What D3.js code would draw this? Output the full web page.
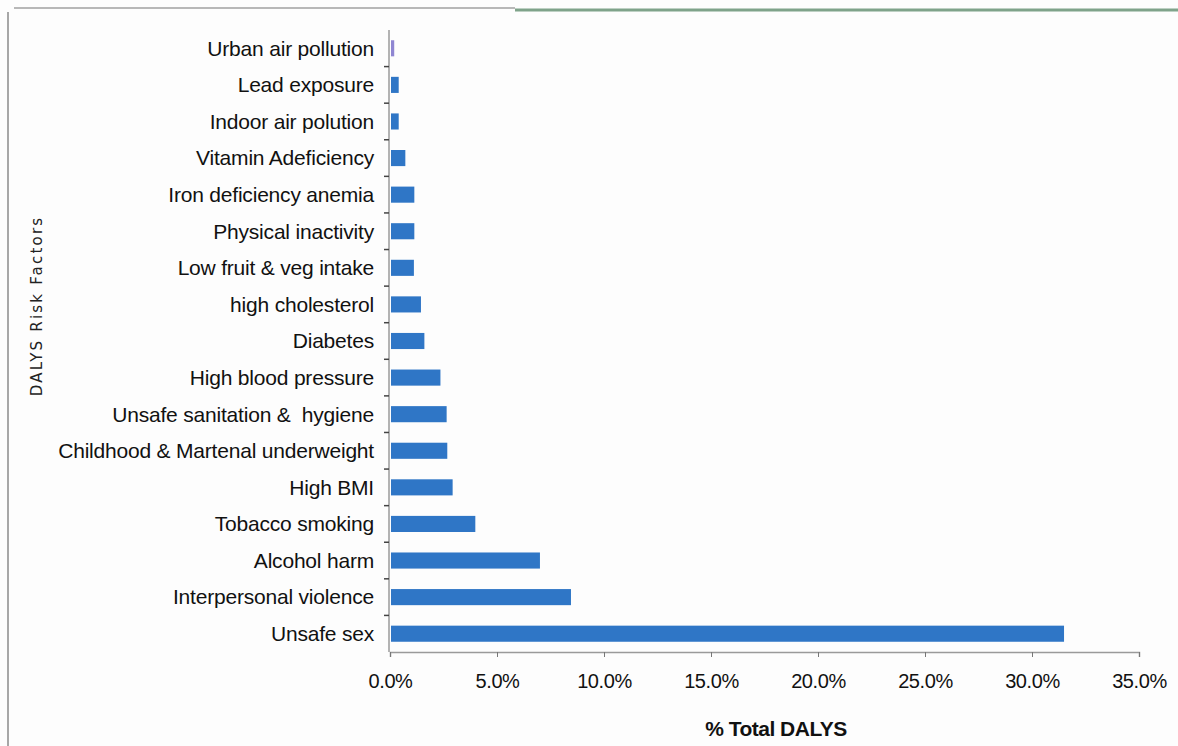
<!DOCTYPE html>
<html>
<head>
<meta charset="utf-8">
<script src="https://cdn.jsdelivr.net/npm/d3@7"></script>
<style>
  body { margin: 0; background: #fff; }
  svg { display: block; }
  text { white-space: pre; }
</style>
</head>
<body>
<div id="chart"></div>
<script>
// risk factors, top to bottom
const factors = [
  "Urban air pollution", "Lead exposure", "Indoor air polution", "Vitamin Adeficiency",
  "Iron deficiency anemia", "Physical inactivity", "Low fruit & veg intake", "high cholesterol",
  "Diabetes", "High blood pressure", "Unsafe sanitation &  hygiene", "Childhood & Martenal underweight",
  "High BMI", "Tobacco smoking", "Alcohol harm", "Interpersonal violence", "Unsafe sex"
];
// % of total DALYs
const dalys = [0.15, 0.36, 0.36, 0.67, 1.09, 1.09, 1.07, 1.4, 1.56, 2.31, 2.6, 2.63, 2.88, 3.94, 6.96, 8.41, 31.45];
const xTicks = [0, 5, 10, 15, 20, 25, 30, 35];

const width = 1178, height = 746;
const plotLeft = 390, plotRight = 1139, plotTop = 30, plotBottom = 652;

const svg = d3.select("#chart").append("svg")
    .attr("width", width)
    .attr("height", height);

svg.append("rect")
    .attr("width", width).attr("height", height)
    .attr("fill", "#fdfdfd");

// frame bits of the original screenshot
svg.append("line")
    .attr("x1", 8).attr("y1", 12).attr("x2", 8).attr("y2", height)
    .attr("stroke", "#8a8a8a").attr("stroke-width", 1.5);
svg.append("line")
    .attr("x1", 14).attr("y1", 8).attr("x2", 515).attr("y2", 8)
    .attr("stroke", "#b8b8b8").attr("stroke-width", 2);
svg.append("line")
    .attr("x1", 515).attr("y1", 10).attr("x2", width).attr("y2", 10)
    .attr("stroke", "#7fa38a").attr("stroke-width", 3);

const x = d3.scaleLinear().domain([0, 35]).range([plotLeft, plotRight]);
const y = d3.scaleBand().domain(factors).range([plotTop, plotBottom]);
const barH = y.bandwidth() * 0.44;

// bars
svg.selectAll("rect.bar")
    .data(factors)
    .enter().append("rect")
    .attr("class", "bar")
    .attr("x", x(0) + 1)
    .attr("y", d => y(d) + (y.bandwidth() - barH) / 2)
    .attr("width", (d, i) => x(dalys[i]) - x(0))
    .attr("height", barH)
    .attr("fill", (d, i) => i === 0 ? "#8f86d2" : "#2f76c6");

// y axis
const yAxis = svg.append("g");
yAxis.append("line")
    .attr("x1", plotLeft - 1).attr("x2", plotLeft - 1)
    .attr("y1", plotTop).attr("y2", plotBottom)
    .attr("stroke", "#9a9a9a").attr("stroke-width", 1.5);
yAxis.selectAll("line.tick")
    .data(factors.slice(1))
    .enter().append("line")
    .attr("class", "tick")
    .attr("x1", plotLeft - 6).attr("x2", plotLeft - 1)
    .attr("y1", d => y(d)).attr("y2", d => y(d))
    .attr("stroke", "#444").attr("stroke-width", 1.5);
yAxis.selectAll("text")
    .data(factors)
    .enter().append("text")
    .attr("x", plotLeft - 16)
    .attr("y", d => y(d) + y.bandwidth() / 2)
    .attr("dy", "0.35em")
    .attr("text-anchor", "end")
    .attr("font-family", "Liberation Sans, Arial, sans-serif")
    .attr("font-size", 21)
    .attr("letter-spacing", "-0.2px")
    .attr("fill", "#111")
    .text(d => d);

// x axis
const xAxis = svg.append("g")
    .attr("transform", "translate(0," + plotBottom + ")")
    .call(d3.axisBottom(x).tickValues(xTicks).tickSize(5).tickPadding(17)
        .tickFormat(d => d.toFixed(1) + "%"));
xAxis.select(".domain").attr("stroke", "#9a9a9a").attr("stroke-width", 1.5);
xAxis.selectAll(".tick line").attr("stroke", "#777");
xAxis.selectAll(".tick text")
    .attr("font-family", "Liberation Sans, Arial, sans-serif")
    .attr("font-size", 20)
    .attr("letter-spacing", "-0.4px")
    .attr("fill", "#111");

// axis titles
svg.append("text")
    .attr("x", 776).attr("y", 736)
    .attr("text-anchor", "middle")
    .attr("font-family", "Liberation Sans, Arial, sans-serif")
    .attr("font-weight", "bold")
    .attr("font-size", 21)
    .attr("letter-spacing", "-0.5px")
    .attr("fill", "#111")
    .text("% Total DALYS");

svg.append("text")
    .attr("transform", "translate(42,306) rotate(-90)")
    .attr("text-anchor", "middle")
    .attr("font-family", "DejaVu Sans, sans-serif")
    .attr("font-size", 15)
    .attr("letter-spacing", "2.2px")
    .attr("fill", "#222")
    .text("DALYS Risk Factors");
</script>
</body>
</html>
